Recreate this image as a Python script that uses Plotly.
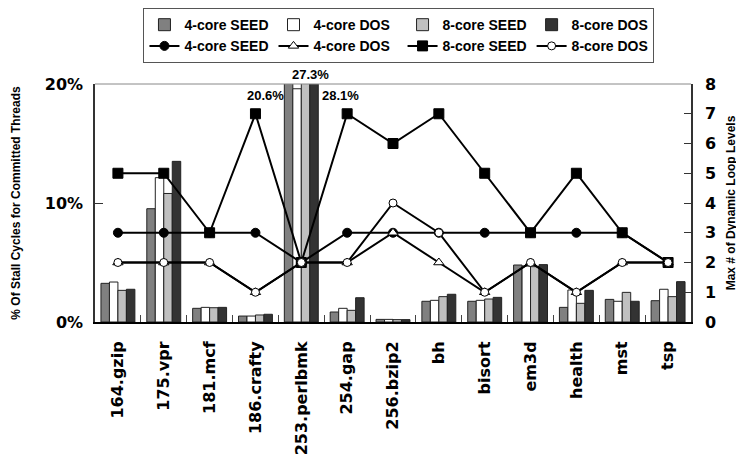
import plotly.graph_objects as go

categories = ["164.gzip", "175.vpr", "181.mcf", "186.crafty", "253.perlbmk", "254.gap",
              "256.bzip2", "bh", "bisort", "em3d", "health", "mst", "tsp"]

# % of stall cycles (bars, left axis)
stall_4core_seed = [3.25, 9.52, 1.15, 0.50, 20.6, 0.84, 0.22, 1.74, 1.74, 4.79, 1.23, 1.90, 1.79]
stall_4core_dos  = [3.36, 12.13, 1.23, 0.50, 19.6, 1.15, 0.22, 1.82, 1.82, 4.70, 2.69, 1.74, 2.75]
stall_8core_seed = [2.66, 10.80, 1.20, 0.59, 27.3, 0.98, 0.20, 2.13, 1.93, 4.65, 1.57, 2.49, 2.13]
stall_8core_dos  = [2.75, 13.50, 1.23, 0.65, 28.1, 2.04, 0.20, 2.33, 2.07, 4.82, 2.66, 1.74, 3.39]

# Max # of dynamic loop levels (lines, right axis)
loops_4core_seed = [3, 3, 3, 3, 2, 3, 3, 3, 3, 3, 3, 3, 2]
loops_4core_dos  = [2, 2, 2, 1, 2, 2, 3, 2, 1, 2, 1, 2, 2]
loops_8core_seed = [5, 5, 3, 7, 2, 7, 6, 7, 5, 3, 5, 3, 2]
loops_8core_dos  = [2, 2, 2, 1, 2, 2, 4, 3, 1, 2, 1, 2, 2]

overflow_labels = ["20.6%", "27.3%", "28.1%"]

FONT = "Liberation Sans, Arial, sans-serif"
TICKFONT = "DejaVu Sans, Liberation Sans, sans-serif"
fig = go.Figure()

bar_specs = [
    ("4-core SEED", stall_4core_seed, "#808080"),
    ("4-core DOS", stall_4core_dos, "#ffffff"),
    ("8-core SEED", stall_8core_seed, "#c0c0c0"),
    ("8-core DOS", stall_8core_dos, "#333333"),
]
for name, vals, col in bar_specs:
    fig.add_trace(go.Bar(x=categories, y=vals, name=name, yaxis="y",
                         marker=dict(color=col, line=dict(color="#222222", width=1)),
                         cliponaxis=True))

line_specs = [
    ("4-core SEED", loops_4core_seed, dict(symbol="circle", size=9, color="black",
                                            line=dict(color="black", width=1))),
    ("4-core DOS", loops_4core_dos, dict(symbol="triangle-up", size=9, color="white",
                                          line=dict(color="black", width=1))),
    ("8-core SEED", loops_8core_seed, dict(symbol="square", size=10, color="black",
                                            line=dict(color="black", width=1))),
    ("8-core DOS", loops_8core_dos, dict(symbol="circle", size=8, color="white",
                                          line=dict(color="black", width=1))),
]
for name, vals, mk in line_specs:
    fig.add_trace(go.Scatter(x=categories, y=vals, name=name, yaxis="y2",
                             mode="lines+markers", line=dict(color="black", width=2),
                             marker=mk, cliponaxis=False))

# overflow value labels for 253.perlbmk
ann_pos = [(-36, 0.95), (9, 1.038), (39, 0.95)]
for txt, (dx, yy) in zip(overflow_labels, ann_pos):
    fig.add_annotation(x="253.perlbmk", xref="x", y=yy, yref="paper", text=txt,
                       showarrow=False, xshift=dx, xanchor="center", yanchor="middle",
                       font=dict(family=FONT, size=13, color="black", weight="bold"))

fig.add_shape(type="line", xref="paper", yref="paper", x0=0, x1=1, y0=1, y1=1,
              line=dict(color="#888888", width=1))

fig.update_layout(
    width=744, height=461,
    margin=dict(l=87, r=61, t=76, b=147, autoexpand=False),
    paper_bgcolor="white", plot_bgcolor="white",
    barmode="group", bargap=0.26, bargroupgap=0,
    font=dict(family=FONT, color="black"),
    showlegend=True,
    legend=dict(orientation="h", x=0.51, xanchor="center", y=1.319, yanchor="top",
                bordercolor="#555555", borderwidth=1, bgcolor="white",
                font=dict(family=FONT, size=14, weight="bold"),
                tracegroupgap=0, traceorder="normal", itemwidth=30),
    xaxis=dict(type="category", range=[-0.5, len(categories) - 0.5],
               showline=True, linecolor="black", linewidth=2,
               ticks="inside", tickson="boundaries", ticklen=7, tickcolor="#444444",
               tickangle=-90, ticklabelstandoff=11, automargin=False,
               tickfont=dict(family=TICKFONT, size=16, weight="bold")),
    yaxis=dict(range=[0, 20], dtick=10, ticksuffix="%", showgrid=False, zeroline=False,
               showline=True, linecolor="#333333", linewidth=1.5, automargin=False,
               ticks="inside", ticklen=8, tickcolor="#333333", ticklabelstandoff=7,
               tickfont=dict(family=TICKFONT, size=16, weight="bold"),
               title=dict(text="% Of Stall Cycles for Committed Threads", standoff=22,
                          font=dict(family=FONT, size=12, weight="bold"))),
    yaxis2=dict(range=[0, 8], dtick=1, overlaying="y", side="right", showgrid=False,
                zeroline=False, showline=True, linecolor="#333333", linewidth=1.5,
                automargin=False,
                ticks="inside", ticklen=7, tickcolor="#333333", ticklabelstandoff=9,
                tickfont=dict(family=TICKFONT, size=16, weight="bold"),
                title=dict(text="Max # of Dynamic Loop Levels", standoff=12,
                           font=dict(family=FONT, size=12, weight="bold"))),
)

fig.write_html("out.html")
